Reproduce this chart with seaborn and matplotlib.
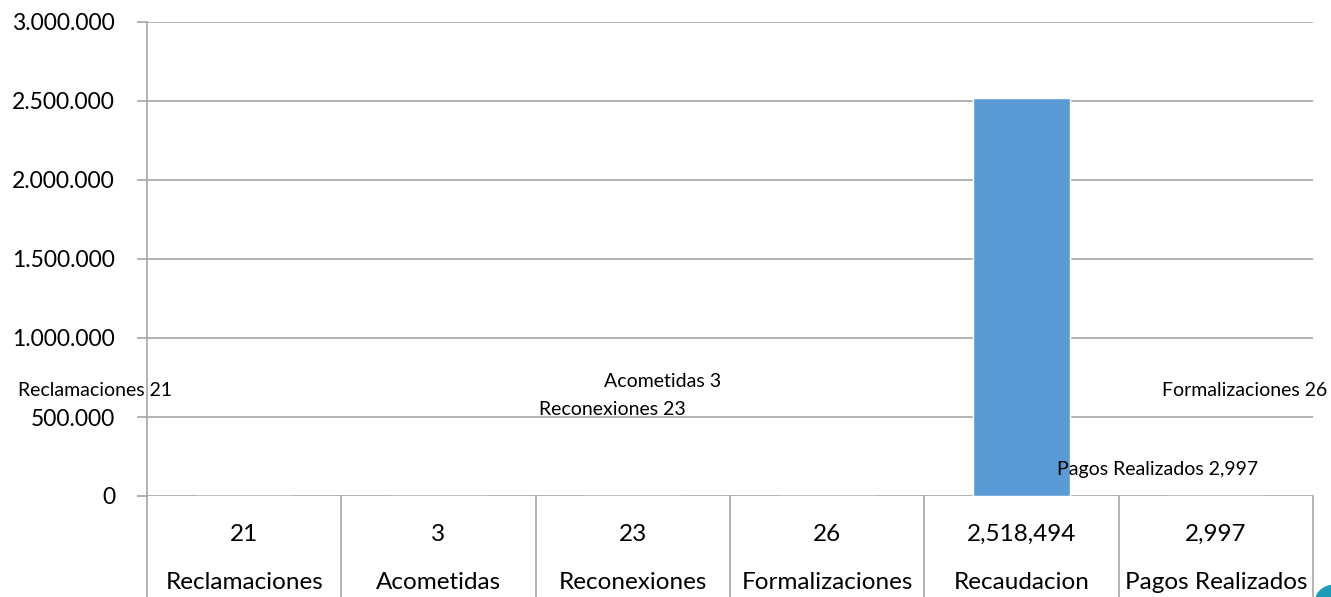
import matplotlib
matplotlib.use("Agg")
import matplotlib.pyplot as plt
import matplotlib.transforms as mtransforms
from matplotlib.patches import Ellipse
import seaborn as sns
import pandas as pd

categories = ["Reclamaciones", "Acometidas", "Reconexiones", "Formalizaciones", "Recaudacion", "Pagos Realizados"]
values = [21, 3, 23, 26, 2518494, 2997]
value_labels = ["21", "3", "23", "26", "2,518,494", "2,997"]
yticks = [0, 500000, 1000000, 1500000, 2000000, 2500000, 3000000]
ytick_labels = ["0", "500.000", "1.000.000", "1.500.000", "2.000.000", "2.500.000", "3.000.000"]

# floating data labels (text, x position, y position)
float_labels = ["Reclamaciones 21", "Acometidas 3", "Reconexiones 23", "Formalizaciones 26", "Pagos Realizados 2,997"]
float_x = [-0.768, 2.155, 1.893, 5.148, 4.70]
float_y = [664600, 727800, 550600, 664600, 164600]

sns.set_theme(style="white")
plt.rcParams['font.family'] = ['Lato', 'DejaVu Sans']

fig = plt.figure(figsize=(13.31, 5.97), dpi=100)
ax = fig.add_axes([147/1331, 1-496/597, 1166/1331, 474/597])

df = pd.DataFrame({"cat": categories, "val": values})
sns.barplot(data=df, x="cat", y="val", color="#5B9BD5", width=0.5, ax=ax, saturation=1)

ax.set_xlim(-0.5, 5.5)
ax.set_ylim(0, 3000000)
ax.set_yticks(yticks)
ax.set_yticklabels(ytick_labels, fontsize=16.5, color="black")
ax.set_xticks([])
ax.set_xlabel("")
ax.set_ylabel("")
ax.yaxis.grid(True, color="#A6A6A6", linewidth=1.2)
ax.set_axisbelow(True)
for s in ["top", "right", "bottom"]:
    ax.spines[s].set_visible(False)
ax.spines["left"].set_color("#A6A6A6")
ax.spines["left"].set_linewidth(1.2)
ax.tick_params(axis="y", left=True, length=7, color="#A6A6A6", width=1.2, pad=16)

# table below the axis
trans = mtransforms.blended_transform_factory(ax.transData, ax.transAxes)
for b in [x - 0.5 for x in range(len(categories) + 1)]:
    ax.plot([b, b], [0, -0.22], transform=trans, color="#A6A6A6", linewidth=1.2, clip_on=False)
for i, (c, v) in enumerate(zip(categories, value_labels)):
    ax.text(i, -0.081, v, transform=trans, ha="center", va="center", fontsize=17.5, color="black")
    ax.text(i, -0.1835, c, transform=trans, ha="center", va="center", fontsize=17.5, color="black")

for t, x, y in zip(float_labels, float_x, float_y):
    ax.text(x, y, t, ha="center", va="center", fontsize=14, color="black", clip_on=False)

# decorative partial circle at bottom-right
fig.patches.append(Ellipse((1336/1331, 1-600/597), 40/1331, 30/597, transform=fig.transFigure,
                           color="#1E9BB8", figure=fig))

fig.savefig("out.png", dpi=100)
